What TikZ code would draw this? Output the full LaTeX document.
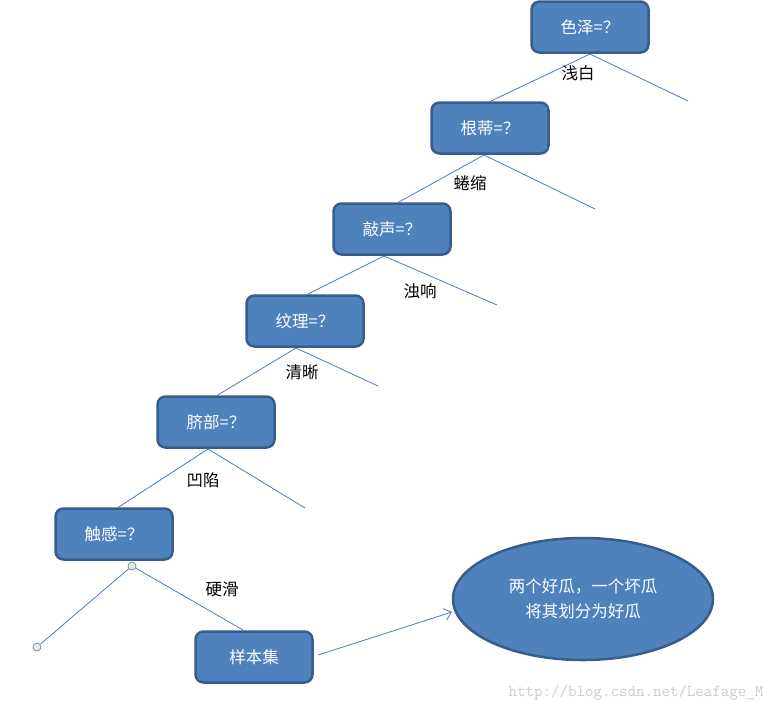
\documentclass[tikz,border=0pt]{standalone}
\usepackage{fontspec}
\newfontfamily\cjk{Noto Sans CJK SC}
\usetikzlibrary{arrows.meta,shapes.geometric}
\definecolor{boxfill}{HTML}{4F81BD}
\definecolor{boxdraw}{HTML}{385D8A}
\definecolor{linec}{HTML}{4A7EBB}
\definecolor{dotfill}{HTML}{DDEEF0}
\tikzset{
  qbox/.style={draw=boxdraw, line width=2.5pt, fill=boxfill, rounded corners=8pt,
    minimum width=117pt, minimum height=51pt, text=white, font=\cjk\fontsize{16.5}{20}\selectfont},
  edge/.style={draw=linec, line width=0.8pt},
  lbl/.style={font=\cjk\fontsize{16.5}{20}\selectfont, text=black},
  dot/.style={circle, draw=gray, fill=dotfill, minimum size=8pt, inner sep=0pt, line width=0.7pt},
}
\begin{document}
\begin{tikzpicture}[x=1pt,y=-1pt]
\useasboundingbox (0,0) rectangle (776,713);
\node[qbox] (a) at (590,27) {色泽=？};
\node[qbox] (b) at (490,128) {根蒂=？};
\node[qbox] (c) at (392,229) {敲声=？};
\node[qbox] (d) at (305,321) {纹理=？};
\node[qbox] (e) at (216,422) {脐部=？};
\node[qbox] (f) at (114,534) {触感=？};
\node[qbox] (g) at (254,657) {样本集};
\node[ellipse, draw=boxdraw, line width=2.5pt, fill=boxfill, minimum width=260pt, minimum height=122pt,
  text=white, align=center, font=\cjk\fontsize{16.5}{25}\selectfont] (h) at (583,599) {两个好瓜，一个坏瓜\\将其划分为好瓜};

\coordinate (a1) at (590,54); \coordinate (ar) at (688,101);
\coordinate (b1) at (484,155); \coordinate (br) at (595,209);
\coordinate (c1) at (384,256); \coordinate (cr) at (497,305);
\coordinate (d1) at (296,348); \coordinate (dr) at (378,386);
\coordinate (e1) at (208,449); \coordinate (er) at (305,508);
\coordinate (gr) at (318,655); \coordinate (hw) at (452,612);
\node[dot] (f1) at (132,566) {};
\node[dot] (fl) at (37,647) {};

\draw[edge] (a1) -- (490,101.5);
\draw[edge] (a1) -- (ar);
\draw[edge] (b1) -- (398,202.5);
\draw[edge] (b1) -- (br);
\draw[edge] (c1) -- (307,294.5);
\draw[edge] (c1) -- (cr);
\draw[edge] (d1) -- (217,395.5);
\draw[edge] (d1) -- (dr);
\draw[edge] (e1) -- (118,507.5);
\draw[edge] (e1) -- (er);
\draw[edge] (f1) -- (fl);
\draw[edge] (f1) -- (243,630);
\draw[edge, -{Straight Barb[length=7pt,width=12pt]}] (gr) -- (hw);

\node[lbl] (la) at (578,73) {浅白};
\node[lbl] (lb) at (470,183) {蜷缩};
\node[lbl] (lc) at (420,291) {浊响};
\node[lbl] (ld) at (302,372) {清晰};
\node[lbl] (le) at (203,480) {凹陷};
\node[lbl] (lf) at (222,589) {硬滑};
\node[font=\ttfamily\fontsize{16.5}{18}\selectfont, text=black!20, anchor=east] (w) at (767,693) {http://blog.csdn.net/Leafage\_M};
\end{tikzpicture}
\end{document}
